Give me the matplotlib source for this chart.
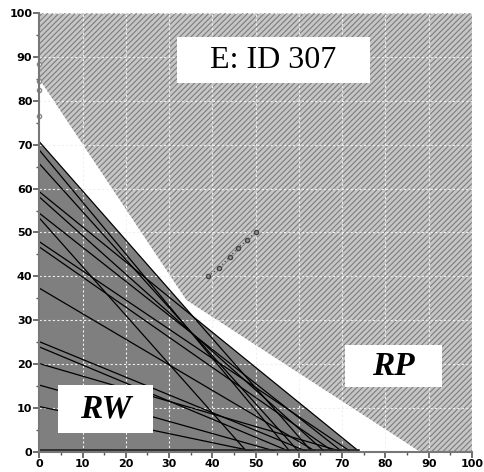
import matplotlib.pyplot as plt
from matplotlib.patches import Rectangle
import numpy as np

# lines bounding the RW region: (y intercept, x intercept)
y_icpt = [70.7, 68.8, 65.7, 59.3, 58.1, 54.4, 53.3, 47.9, 46.7, 37.3, 25.1, 23.9, 20.1, 15.2, 10.3]
x_icpt = [63, 58, 60, 74, 66, 70, 48, 72, 68, 64, 62, 58, 70, 55, 50]

# RP boundary (lower edge of hatched region)
rp_x = [0, 34, 88]
rp_y = [85, 34.6, 0]

# dotted diagonal trace
trace_x = [39, 41.5, 44, 46, 48, 50]
trace_y = [40, 41.8, 44.5, 46.5, 48.3, 50]

# small markers on the y axis
axis_marks = [88.5, 84.5, 82.5, 76.5]

ticks = list(range(0, 101, 10))

plt.rcParams['hatch.linewidth'] = 0.8

fig = plt.figure(figsize=(4.85, 4.72), dpi=100)
ax = fig.add_axes([0.081, 0.043, 0.892, 0.929])
ax.set_xlim(0, 100)
ax.set_ylim(0, 100)

# hatched RP region
poly_x = rp_x + [100, 100, 0]
poly_y = rp_y + [0, 100, 100]
ax.fill(poly_x, poly_y, facecolor='#c6c6c6', edgecolor='#7c7c7c',
        hatch='//////', linewidth=0, zorder=1)

# RW region = area under upper envelope of the lines
xs = np.linspace(0, 100, 801)
env = np.zeros_like(xs)
for y0, x0 in zip(y_icpt, x_icpt):
    yy = np.clip(y0 * (1 - xs / x0), 0, None)
    env = np.maximum(env, yy)
ax.fill_between(xs, 0, env, color='#7f7f7f', linewidth=0, zorder=2)

# grid
for t in ticks[1:]:
    ax.axvline(t, color='#f0f0f0', lw=0.8, ls=(0, (2, 2)), zorder=3)
    ax.axhline(t, color='#f0f0f0', lw=0.8, ls=(0, (2, 2)), zorder=3)

for y0, x0 in zip(y_icpt, x_icpt):
    ax.plot([0, x0], [y0, 0], color='black', lw=0.9, zorder=4)
ax.plot([0, max(x_icpt)], [0.4, 0.4], color='#222222', lw=1.2, zorder=4)

ax.plot(trace_x, trace_y, ls=':', color='#555555', lw=1, marker='o',
        ms=3, mfc='#999999', mec='#444444', zorder=5)
ax.plot([0] * len(axis_marks), axis_marks, ls='none', marker='o', ms=3,
        mfc='white', mec='#888888', clip_on=False, zorder=6)

# labels in white boxes: (x0, x1, y0, y1)
serif = ['Liberation Serif', 'DejaVu Serif']
boxes = {'E: ID 307': (31.8, 76.4, 84.0, 94.5),
         'RW': (4.4, 26.3, 4.3, 15.2),
         'RP': (70.6, 93.0, 14.7, 24.3)}
for label, (bx0, bx1, by0, by1) in boxes.items():
    ax.add_patch(Rectangle((bx0, by0), bx1 - bx0, by1 - by0,
                           facecolor='white', edgecolor='none', zorder=7))
    if label == 'E: ID 307':
        ax.text((bx0 + bx1) / 2, (by0 + by1) / 2, label, ha='center',
                va='center', fontsize=23, family=serif, zorder=8)
    else:
        ax.text((bx0 + bx1) / 2, (by0 + by1) / 2, label, ha='center',
                va='center', fontsize=24, family=serif, weight='bold',
                style='italic', zorder=8)

ax.set_xticks(ticks)
ax.set_yticks(ticks)
ax.set_xticks(range(5, 100, 10), minor=True)
ax.set_yticks(range(5, 100, 10), minor=True)
ax.tick_params(which='major', length=4, width=1.2, color='#555555',
               labelsize=8, pad=1)
ax.tick_params(which='minor', length=2, width=1, color='#555555')
for lab in ax.get_xticklabels() + ax.get_yticklabels():
    lab.set_fontweight('bold')

for s in ['top', 'right']:
    ax.spines[s].set_visible(False)
for s in ['left', 'bottom']:
    ax.spines[s].set_color('#777777')
    ax.spines[s].set_linewidth(1.5)
    ax.spines[s].set_zorder(6)

fig.savefig('out.png', dpi=100)
